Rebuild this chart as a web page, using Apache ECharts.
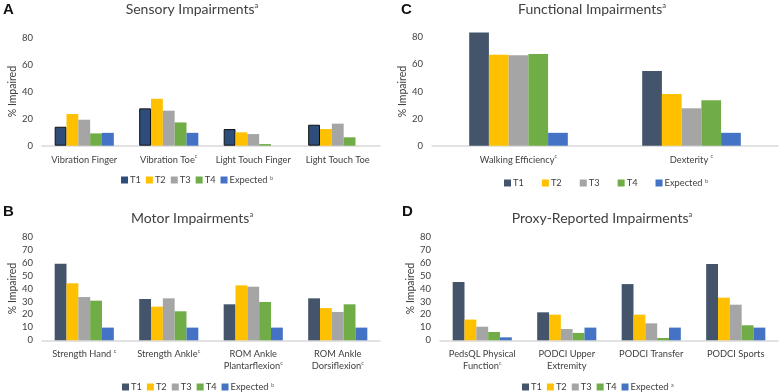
<!DOCTYPE html>
<html>
<head>
<meta charset="utf-8">
<script src="https://cdn.jsdelivr.net/npm/echarts@6/dist/echarts.min.js"></script>
<style>
  html, body { margin: 0; padding: 0; background: #fff; }
  #chart { width: 780px; height: 392px; }
</style>
</head>
<body>
<div id="chart"></div>
<script>
// data
var seriesNames = ['T1', 'T2', 'T3', 'T4', 'Expected'];

var sensoryCats = ['Vibration Finger', 'Vibration Toe{s|c}', 'Light Touch Finger', 'Light Touch Toe'];
var sensoryT1 = [14, 27.6, 12.3, 15.5];
var sensoryT2 = [23.4, 34.7, 9.9, 12.3];
var sensoryT3 = [19.2, 25.9, 8.6, 16.3];
var sensoryT4 = [9.1, 17.2, 1.2, 6.2];
var sensoryExp = [9.5, 9.5, '-', '-'];

var functionalCats = ['Walking Efficiency{s|c}', 'Dexterity {s|c}'];
var functionalT1 = [83.5, 55.2];
var functionalT2 = [67.2, 38.2];
var functionalT3 = [66.7, 27.6];
var functionalT4 = [67.7, 33.5];
var functionalExp = [9.5, 9.5];

var motorCats = ['Strength Hand {s|c}', 'Strength Ankle{s|c}', 'ROM Ankle\nPlantarflexion{s|c}', 'ROM Ankle\nDorsiflexion{s|c}'];
var motorT1 = [59.1, 31.9, 27.8, 32.4];
var motorT2 = [44, 26, 42.4, 24.9];
var motorT3 = [33.4, 32.4, 41.4, 21.9];
var motorT4 = [30.6, 22.4, 29.6, 27.8];
var motorExp = [9.8, 9.8, 9.8, 9.8];

var proxyCats = ['PedsQL Physical\nFunction{s|c}', 'PODCI Upper\nExtremity', 'PODCI Transfer', 'PODCI Sports'];
var proxyT1 = [45, 21.6, 43.4, 58.9];
var proxyT2 = [16, 19.8, 19.8, 32.9];
var proxyT3 = [10.5, 8.7, 13.1, 27.5];
var proxyT4 = [6.4, 5.7, 1.8, 11.6];
var proxyExp = [2.3, 9.8, 9.8, 9.8];

var colors = ['#44546A', '#FFC000', '#A5A5A5', '#70AD47', '#4472C4'];
var font = 'Lato';

var supRich = {
    s: { fontSize: 5.5, verticalAlign: 'top', color: '#595959', fontFamily: font, padding: [0, 0, 4, 0] }
};

var chart = echarts.init(document.getElementById('chart'));

var panels = [
    { cats: sensoryCats, data: [sensoryT1, sensoryT2, sensoryT3, sensoryT4, sensoryExp], max: 80, interval: 20, gap: '30%', t1: '#2E4D7A', t1Border: '#111' },
    { cats: functionalCats, data: [functionalT1, functionalT2, functionalT3, functionalT4, functionalExp], max: 80, interval: 20, gap: '43%' },
    { cats: motorCats, data: [motorT1, motorT2, motorT3, motorT4, motorExp], max: 80, interval: 10, gap: '30%' },
    { cats: proxyCats, data: [proxyT1, proxyT2, proxyT3, proxyT4, proxyExp], max: 80, interval: 10, gap: '30%' }
];

var grids = [
    { left: 42, top: 37.5, width: 338, height: 108.2 },
    { left: 432, top: 37.3, width: 346, height: 108.4 },
    { left: 42, top: 236.7, width: 338, height: 103.6 },
    { left: 440, top: 236.7, width: 338, height: 103.6 }
];

var xAxes = [], yAxes = [], series = [];
panels.forEach(function (p, i) {
    xAxes.push({
        type: 'category',
        gridIndex: i,
        data: p.cats,
        axisLine: { lineStyle: { color: '#D9D9D9', width: 1.5 } },
        axisTick: { show: false },
        axisLabel: {
            interval: 0,
            color: '#404040',
            fontFamily: font,
            fontSize: 9.3,
            lineHeight: 12,
            margin: 8,
            rich: supRich
        }
    });
    yAxes.push({
        type: 'value',
        gridIndex: i,
        min: 0,
        max: p.max,
        interval: p.interval,
        name: '% Impaired',
        nameLocation: 'middle',
        nameRotate: 90,
        nameGap: 24,
        nameTextStyle: { color: '#404040', fontFamily: font, fontSize: 10.5 },
        axisLine: { show: false },
        axisTick: { show: false },
        splitLine: { show: false },
        axisLabel: { color: '#404040', fontFamily: font, fontSize: 9.5, margin: 9 }
    });
    p.data.forEach(function (d, k) {
        var style = { color: colors[k] };
        if (k === 0 && p.t1) {
            style = { color: p.t1, borderColor: p.t1Border, borderWidth: 1 };
        }
        series.push({
            name: seriesNames[k],
            type: 'bar',
            xAxisIndex: i,
            yAxisIndex: i,
            data: d,
            barGap: '0%',
            barCategoryGap: p.gap,
            clip: false,
            itemStyle: style,
            silent: true
        });
    });
});

function legendData(t1Color) {
    return seriesNames.map(function (n, k) {
        return { name: n, itemStyle: { color: k === 0 && t1Color ? t1Color : colors[k], borderWidth: 0 } };
    });
}

function makeLegend(left, top, gap, sup, t1Color) {
    return {
        left: left,
        top: top,
        padding: 0,
        itemWidth: 7,
        itemHeight: 7,
        itemGap: gap,
        icon: 'rect',
        selectedMode: false,
        data: legendData(t1Color),
        formatter: function (name) {
            return name === 'Expected' ? 'Expected {s|' + sup + '}' : name;
        },
        textStyle: { color: '#404040', fontFamily: font, fontSize: 9.3, padding: [0, 0, 0, -3], rich: supRich }
    };
}

var titleStyle = { color: '#404040', fontFamily: font, fontSize: 14, fontWeight: 'normal', rich: { s: { fontSize: 7.5, verticalAlign: 'top', color: '#404040', fontFamily: font } } };
var letterStyle = { color: '#111', fontFamily: 'Liberation Sans', fontSize: 15, fontWeight: 'bold' };

chart.setOption({
    animation: false,
    title: [
        { text: 'A', left: 3, top: 2, padding: 0, textStyle: letterStyle },
        { text: 'Sensory Impairments{s|a}', left: 192, top: 2, padding: 0, textAlign: 'center', textStyle: titleStyle },
        { text: 'C', left: 401, top: 2, padding: 0, textStyle: letterStyle },
        { text: 'Functional Impairments{s|a}', left: 592, top: 2, padding: 0, textAlign: 'center', textStyle: titleStyle },
        { text: 'B', left: 3, top: 204, padding: 0, textStyle: letterStyle },
        { text: 'Motor Impairments{s|a}', left: 192, top: 211, padding: 0, textAlign: 'center', textStyle: titleStyle },
        { text: 'D', left: 402, top: 204, padding: 0, textStyle: letterStyle },
        { text: 'Proxy-Reported Impairments{s|a}', left: 602, top: 211, padding: 0, textAlign: 'center', textStyle: titleStyle }
    ],
    legend: [
        makeLegend(121, 175, 5, 'b', '#2E4D7A'),
        makeLegend(504, 178, 18, 'b'),
        makeLegend(122, 382, 5, 'b'),
        makeLegend(522, 382, 5, 'a')
    ],
    grid: grids,
    xAxis: xAxes,
    yAxis: yAxes,
    series: series
});
</script>
</body>
</html>
